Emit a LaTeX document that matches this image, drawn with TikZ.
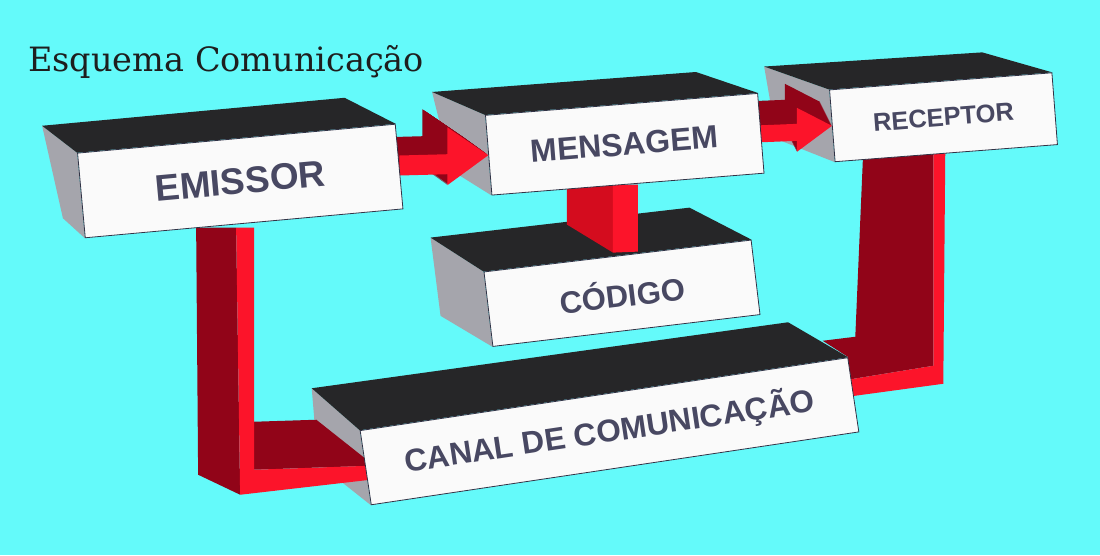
\documentclass[tikz,border=0pt]{standalone}
\usepackage{fontspec}
\newfontfamily\boxfont{Liberation Sans}
\newfontfamily\titlefont{DejaVu Serif}
\usetikzlibrary{calc}
\definecolor{sky}  {RGB}{100,250,250}
\definecolor{ink}  {RGB}{ 30, 30, 30}
\definecolor{lbl}  {RGB}{ 72, 72, 98}
\definecolor{topk} {RGB}{ 38, 38, 40}
\definecolor{sideg}{RGB}{165,165,172}
\definecolor{rhi}  {RGB}{252, 20, 42}
\definecolor{rmid} {RGB}{212, 12, 30}
\definecolor{rlo}  {RGB}{145,  4, 24}
\pgfdeclarelayer{back}
\pgfdeclarelayer{front}
\pgfsetlayers{back,main,front}
\tikzset{
  % White front face of a block
  FB/.style={rectangle,draw=lbl!70!black,fill=white!96!gray,line width=0.8pt,
             inner sep=0pt,text=lbl},
  % Block faces seen from above / from the left
  Top/.style ={fill=topk},
  Side/.style={fill=sideg},
  % Red beams
  RHi/.style ={fill=rhi},
  RMid/.style={fill=rmid},
  RLo/.style ={fill=rlo},
}

\begin{document}
\begin{tikzpicture}[x=1pt,y=1pt]
% ── Front faces ──────────────────────────
\begin{pgfonlayer}{front}
\node[FB,minimum width=319pt,minimum height=85pt,rotate=5.2,
      font=\boxfont\bfseries\fontsize{37}{42}\selectfont]
  (emi) at (240.25,374) {EMISSOR};
\node[FB,minimum width=273pt,minimum height=80pt,rotate=4.6,
      font=\boxfont\bfseries\fontsize{32}{36}\selectfont]
  (msg) at (624.75,410.75) {MENSAGEM};
\node[FB,minimum width=269pt,minimum height=75pt,rotate=6.8,
      font=\boxfont\bfseries\fontsize{31}{36}\selectfont]
  (cod) at (622,261.75) {CÓDIGO};
\node[FB,minimum width=223pt,minimum height=72pt,rotate=4.4,
      font=\boxfont\bfseries\fontsize{25.5}{30}\selectfont]
  (rec) at (943.5,437.75) {RECEPTOR};
\node[FB,minimum width=493pt,minimum height=75pt,rotate=8.5,
      font=\boxfont\bfseries\fontsize{31.5}{36}\selectfont]
  (can) at (609.5,123.75) {CANAL DE COMUNICAÇÃO};
\node[anchor=base west,inner sep=0pt,text=ink,
      font=\titlefont\fontsize{33.5}{40}\selectfont]
  (title) at (28,483) {Esquema Comunicação};
\end{pgfonlayer}
% ── Top and side faces ───────────────────
\begin{pgfonlayer}{back}
\fill[sky] (0,0) rectangle (1100,555);
\fill[Side] (emi.north west) -- ++(-35,27) -- ($(emi.south west)+(-22,20)$) -- (emi.south west) -- cycle;
\fill[Top]  (emi.north west) -- ++(-35,27) -- ($(emi.north east)+(-51,26)$) -- (emi.north east) -- cycle;
\fill[Side] (msg.north west) -- ++(-53,23) -- ($(msg.south west)+(-40,25)$) -- (msg.south west) -- cycle;
\fill[Top]  (msg.north west) -- ++(-53,23) -- ($(msg.north east)+(-62,21)$) -- (msg.north east) -- cycle;
\fill[Side] (cod.north west) -- ++(-53,34) -- ($(cod.south west)+(-52,31)$) -- (cod.south west) -- cycle;
\fill[Top]  (cod.north west) -- ++(-53,34) -- ($(cod.north east)+(-62,32)$) -- (cod.north east) -- cycle;
\fill[Side] (rec.north west) -- ++(-65,23) -- ($(rec.south west)+(-58,23)$) -- (rec.south west) -- cycle;
\fill[Top]  (rec.north west) -- ++(-65,23) -- ($(rec.north east)+(-70,20)$) -- (rec.north east) -- cycle;
\fill[Side] (can.north west) -- ++(-48,42) -- ($(can.south west)+(-53,42)$) -- (can.south west) -- cycle;
\fill[Top]  (can.north west) -- ++(-48,42) -- ($(can.north east)+(-60,35)$) -- (can.north east) -- cycle;
\end{pgfonlayer}
% ── Arrow: emissor -> mensagem ───────────
\foreach \d in {1,...,25}
  \fill[RLo,transform canvas={shift={({-\d pt},{0.72*\d pt})}}]
    ($(emi.east)+(0,11)$) -- ($(msg.west)+(-41,1)$) -- ($(msg.west)+(-41,28)$)
    -- (msg.west) -- ($(msg.west)+(-41,-30)$) -- ($(msg.west)+(-41,-19)$)
    -- ($(emi.east)+(0,-9)$) -- cycle;
\fill[RHi] ($(emi.east)+(0,11)$) -- ($(msg.west)+(-41,1)$) -- ($(msg.west)+(-41,28)$)
    -- (msg.west) -- ($(msg.west)+(-41,-30)$) -- ($(msg.west)+(-41,-19)$)
    -- ($(emi.east)+(0,-9)$) -- cycle;
% ── Arrow: mensagem -> receptor ──────────
\foreach \d in {1,...,24}
  \fill[RLo,transform canvas={shift={({-0.5*\d pt},{\d pt})}}]
    ($(msg.east)+(0,8)$) -- ($(rec.west)+(-35,2)$) -- ($(rec.west)+(-35,18)$)
    -- (rec.west) -- ($(rec.west)+(-35,-26)$) -- ($(rec.west)+(-35,-15)$)
    -- ($(msg.east)+(0,-9)$) -- cycle;
\fill[RHi] ($(msg.east)+(0,8)$) -- ($(rec.west)+(-35,2)$) -- ($(rec.west)+(-35,18)$)
    -- (rec.west) -- ($(rec.west)+(-35,-26)$) -- ($(rec.west)+(-35,-15)$)
    -- ($(msg.east)+(0,-9)$) -- cycle;
% ── Beam: mensagem -> codigo ─────────────
\fill[RMid] let \p1=(msg.south), \p2=(cod.north) in
  (\x1-61pt,\y1) -- (\x1-15pt,\y1) -- (\x1-15pt,\y2+3pt) -- (\x1-61pt,\y2+31pt) -- cycle;
\fill[RHi] let \p1=(msg.south), \p2=(cod.north) in
  (\x1-15pt,\y1) -- (\x1+10pt,\y1) -- (\x1+10pt,\y2+4pt) -- (\x1-15pt,\y2+3pt) -- cycle;
% ── Beam: emissor -> canal ───────────────
\fill[RLo] let \p1=(emi.south), \p2=(can.west) in
  (\x1-48pt,\y1-4pt) -- (\x1-8pt,\y1-4pt) -- (\x1-4pt,\y2-27pt) -- (\x1-46pt,\y2-7pt) -- cycle;
\fill[RLo] let \p1=(emi.south), \p2=(can.west) in
  (\x1+10pt,\y2+46pt) -- (\x2-49pt,\y2+48pt) -- (\x2+4pt,\y2+6pt)
  -- (\x2+4pt,\y2+2pt) -- (\x1+10pt,\y2-2pt) -- cycle;
\fill[RHi] let \p1=(emi.south), \p2=(can.west) in
  (\x1-8pt,\y1-4pt) -- (\x1+10pt,\y1-4pt) -- (\x1+10pt,\y2-2pt) -- (\x2+5pt,\y2+2pt)
  -- (\x2+5pt,\y2-12pt) -- (\x1-4pt,\y2-27pt) -- cycle;
% ── Beam: receptor -> canal ──────────────
\fill[RLo] let \p1=(rec.south), \p2=(can.east) in
  (\x1-83pt,\y1+4pt) -- (\x1-13pt,\y1+4pt) -- (\x1-13pt,\y2+29pt) -- (\x2-6pt,\y2+15pt)
  -- (\x2-6pt,\y2+38pt) -- (\x2-31pt,\y2+54pt) -- (\x1-91pt,\y2+58pt) -- cycle;
\fill[RHi] let \p1=(rec.south), \p2=(can.east) in
  (\x1-13pt,\y1+4pt) -- (\x1-1pt,\y1+4pt) -- (\x1-3pt,\y2+11pt) -- (\x2-6pt,\y2-2pt)
  -- (\x2-6pt,\y2+15pt) -- (\x1-13pt,\y2+29pt) -- cycle;
\end{tikzpicture}
\end{document}
